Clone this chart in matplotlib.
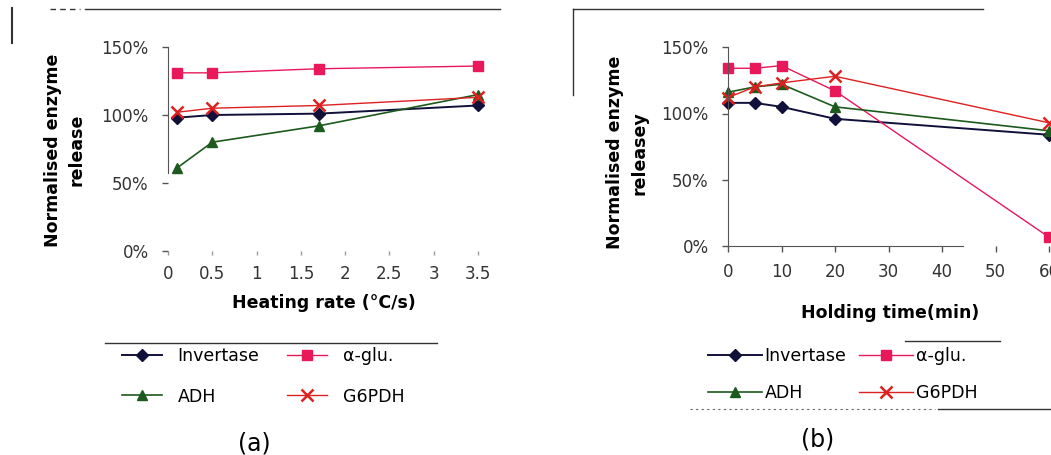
import matplotlib
matplotlib.use('Agg')
import matplotlib.pyplot as plt
from matplotlib.lines import Line2D
from matplotlib.ticker import PercentFormatter

plt.rcParams['font.family'] = ['DejaVu Sans']

# (a) release vs heating rate
rate = [0.1, 0.5, 1.7, 3.5]
rate_invertase = [98, 100, 101, 107]
rate_aglu = [131, 131, 134, 136]
rate_adh = [61, 80, 92, 115]
rate_g6pdh = [102, 105, 107, 113]
rate_ticks = [0, 0.5, 1, 1.5, 2, 2.5, 3, 3.5]
rate_ticklabels = ['0', '0.5', '1', '1.5', '2', '2.5', '3', '3.5']

# (b) release vs holding time
hold = [0, 5, 10, 20, 60]
hold_invertase = [108, 108, 105, 96, 84]
hold_aglu = [134, 134, 136, 117, 7]
hold_adh = [116, 120, 122, 105, 87]
hold_g6pdh = [112, 120, 123, 128, 93]
hold_ticks = [0, 10, 20, 30, 40, 50, 60]

pct_ticks = [0, 50, 100, 150]
names = ['Invertase', 'α-glu.', 'ADH', 'G6PDH']

styles = [
    dict(color='#10103a', marker='D', ms=6, lw=1.4),
    dict(color='#e8185a', marker='s', ms=7, lw=1.0),
    dict(color='#1d5a1d', marker='^', ms=7, lw=1.2),
    dict(color='#dd2020', marker='x', ms=9, mew=1.8, lw=1.0),
]

W, H = 1051, 455
fig = plt.figure(figsize=(W / 100, H / 100), dpi=100)

def box(x0, y0, x1, y1):
    # pixel box (top-left origin) -> figure fraction rect
    return [x0 / W, 1 - y1 / H, (x1 - x0) / W, (y1 - y0) / H]

def hline(x0, x1, y, **kw):
    fig.add_artist(Line2D([x0 / W, x1 / W], [1 - y / H, 1 - y / H],
                          transform=fig.transFigure, **kw))

def vline(x, y0, y1, **kw):
    fig.add_artist(Line2D([x / W, x / W], [1 - y0 / H, 1 - y1 / H],
                          transform=fig.transFigure, **kw))

ax1 = fig.add_axes(box(168, 47, 478, 251))
ax2 = fig.add_axes(box(728, 47, 1049, 246.5))

for ax, x, series in [
        (ax1, rate, [rate_invertase, rate_aglu, rate_adh, rate_g6pdh]),
        (ax2, hold, [hold_invertase, hold_aglu, hold_adh, hold_g6pdh])]:
    for y, name, st in zip(series, names, styles):
        ax.plot(x, y, label=name, clip_on=False, **st)
    ax.set_ylim(0, 150)
    ax.set_yticks(pct_ticks)
    ax.yaxis.set_major_formatter(PercentFormatter(decimals=0))
    for s in ['top', 'right']:
        ax.spines[s].set_visible(False)
    ax.spines['left'].set_color('#555555')
    ax.spines['bottom'].set_color('#555555')
    ax.tick_params(labelsize=12, labelcolor='#333333', color='#555555',
                   length=4, width=1)
    ax.tick_params(axis='y', pad=10)

ax1.set_xlim(0, 3.5)
ax1.set_xticks(rate_ticks)
ax1.set_xticklabels(rate_ticklabels)
ax1.spines['bottom'].set_visible(False)
ax1.spines['left'].set_bounds(57, 150)
ax1.tick_params(axis='x', length=3, pad=7, color='#999999')

ax2.set_xlim(0, 60)
ax2.set_xticks(hold_ticks)
ax2.spines['bottom'].set_bounds(0, 44)
ax2.tick_params(axis='x', pad=8)

ax1.set_xlabel('Heating rate (°C/s)', fontsize=12.5, fontweight='bold')
ax1.xaxis.set_label_coords(0.503, -0.21)
ax2.set_xlabel('Holding time(min)', fontsize=12.5, fontweight='bold')
ax2.xaxis.set_label_coords(0.505, -0.29)

ax1.set_ylabel('Normalised enzyme\nrelease', fontsize=12.5,
               fontweight='bold', linespacing=1.45)
ax1.yaxis.set_label_coords(-0.265, 0.495)
ax2.set_ylabel('Normalised enzyme\nreleasey', fontsize=12.5,
               fontweight='bold', linespacing=1.45)
ax2.yaxis.set_label_coords(-0.249, 0.47)

# two columns filled top row first: Invertase, α-glu. / ADH, G6PDH
order = [0, 2, 1, 3]
for ax, anchor, kw in [
        (ax1, (122, 347), dict(handlelength=2.3, handletextpad=0.9,
                               columnspacing=1.6, labelspacing=1.3)),
        (ax2, (708, 347), dict(handlelength=3.1, handletextpad=0.15,
                               columnspacing=0.75, labelspacing=1.1))]:
    h, l = ax.get_legend_handles_labels()
    ax.legend([h[i] for i in order], [l[i] for i in order],
              loc='upper left',
              bbox_to_anchor=(anchor[0] / W, 1 - anchor[1] / H),
              bbox_transform=fig.transFigure, ncol=2, frameon=False,
              fontsize=12.5, borderpad=0, borderaxespad=0, **kw)

fig.text(254 / W, 1 - 443 / H, '(a)', fontsize=17, ha='center', va='center')
fig.text(818 / W, 1 - 440 / H, '(b)', fontsize=17, ha='center', va='center')

# chart-area borders around each panel
edge = dict(color='#333333', lw=1.0)
hline(50, 80, 9, ls=(0, (4, 3)), **edge)
hline(85, 500, 9, **edge)
vline(12, 8, 43, color='#333333', lw=1.5)
hline(573, 983, 9, **edge)
vline(573, 9, 95, **edge)
hline(105, 437, 343, **edge)
hline(905, 1000, 341, **edge)
hline(690, 935, 409, color='#666666', lw=0.8, ls=(0, (2, 3)))
hline(938, 1051, 409, **edge)

fig.savefig('out.png', dpi=100)
